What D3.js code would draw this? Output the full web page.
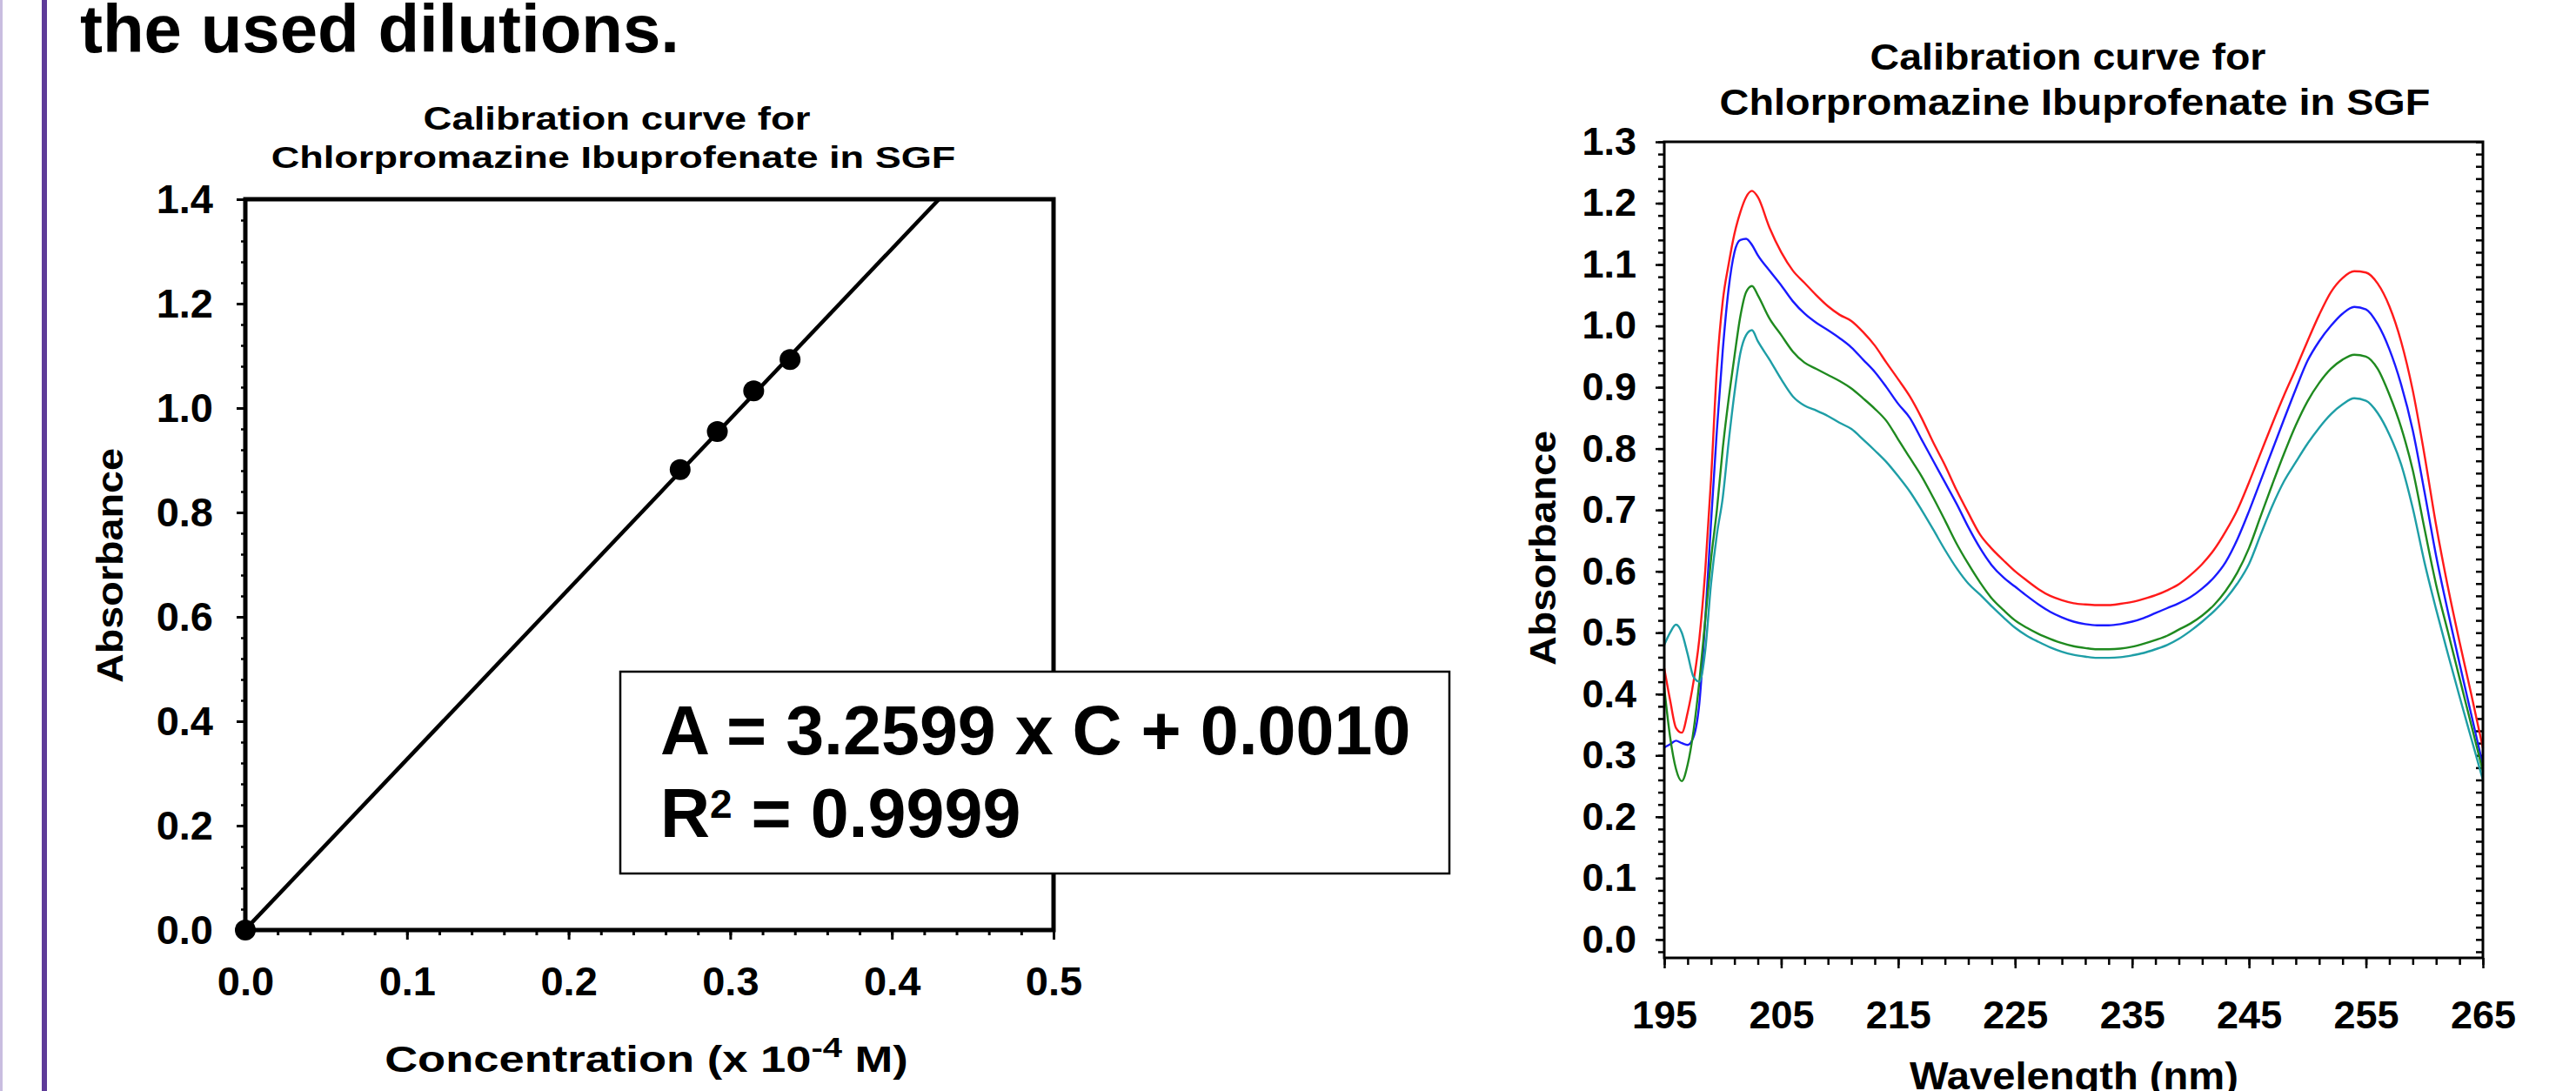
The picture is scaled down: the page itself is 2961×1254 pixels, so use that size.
<!DOCTYPE html>
<html>
<head>
<meta charset="utf-8">
<script src="https://cdn.jsdelivr.net/npm/d3@7"></script>
<style>
  html, body { margin: 0; padding: 0; background: #fff; }
  svg { display: block; font-family: "Liberation Sans", Arial, sans-serif; font-weight: bold; }
</style>
</head>
<body>
<svg id="chart" width="2961" height="1254"></svg>
<script>
// ---- calibration data (left panel)
var concentration = [0, 0.269, 0.292, 0.3145, 0.337];
var absorbance = [0, 0.882, 0.955, 1.033, 1.093];
var fitSlope = 3.2599, fitIntercept = 0.0010, fitR2 = 0.9999;
var concTicks = [0, 0.1, 0.2, 0.3, 0.4, 0.5];
var absTicks = [0, 0.2, 0.4, 0.6, 0.8, 1.0, 1.2, 1.4];

// ---- spectra (right panel)
var wavelength = [195, 195.5, 196, 196.5, 197, 197.5, 198, 198.5, 199, 199.5, 200, 200.5, 201, 201.5, 202, 202.5, 203,
  204, 205, 206, 207, 208, 209, 210, 211, 212, 213, 214, 215, 216, 217, 218, 219, 220, 221, 222, 223, 224,
  225, 226, 227, 228, 229, 230, 231, 232, 233, 234, 235, 236, 237, 238, 239, 240, 241, 242, 243, 244, 245,
  246, 247, 248, 249, 250, 251, 252, 253, 254, 255, 256, 257, 258, 259, 260, 261, 262, 263, 264, 265];
var specRed = [0.442, 0.39, 0.345, 0.337, 0.37, 0.42, 0.49, 0.60, 0.75, 0.93, 1.04, 1.10, 1.15, 1.185, 1.21, 1.22, 1.21,
  1.16, 1.12, 1.09, 1.07, 1.05, 1.032, 1.018, 1.008, 0.99, 0.968, 0.94, 0.913, 0.885, 0.85, 0.81, 0.773, 0.732, 0.695, 0.66, 0.637, 0.618,
  0.60, 0.585, 0.571, 0.56, 0.553, 0.548, 0.546, 0.545, 0.545, 0.547, 0.55, 0.555, 0.561, 0.569, 0.579, 0.594, 0.612, 0.635, 0.665, 0.70, 0.745,
  0.793, 0.841, 0.887, 0.93, 0.975, 1.018, 1.055, 1.078, 1.089, 1.087, 1.069, 1.032, 0.975, 0.895, 0.79, 0.675, 0.575, 0.485, 0.40, 0.312];
var specBlue = [0.313, 0.318, 0.324, 0.32, 0.317, 0.33, 0.385, 0.52, 0.68, 0.83, 0.96, 1.06, 1.12, 1.14, 1.142, 1.132, 1.115,
  1.09, 1.066, 1.04, 1.02, 1.005, 0.993, 0.98, 0.965, 0.945, 0.925, 0.90, 0.873, 0.85, 0.815, 0.78, 0.745, 0.71, 0.672, 0.638, 0.61, 0.59,
  0.575, 0.56, 0.546, 0.534, 0.525, 0.518, 0.514, 0.512, 0.512, 0.514, 0.518, 0.524, 0.532, 0.54, 0.548, 0.558, 0.572, 0.59, 0.615, 0.652, 0.698,
  0.748, 0.798, 0.848, 0.897, 0.943, 0.975, 1.0, 1.02, 1.031, 1.027, 1.003, 0.962, 0.905, 0.83, 0.73, 0.625, 0.535, 0.45, 0.367, 0.284];
var specGreen = [0.41, 0.33, 0.278, 0.258, 0.285, 0.34, 0.42, 0.52, 0.62, 0.70, 0.80, 0.88, 0.95, 1.015, 1.055, 1.065, 1.05,
  1.012, 0.985, 0.958, 0.94, 0.93, 0.92, 0.91, 0.898, 0.882, 0.865, 0.845, 0.815, 0.785, 0.755, 0.72, 0.683, 0.645, 0.612, 0.582, 0.556, 0.537,
  0.52, 0.508, 0.498, 0.49, 0.483, 0.478, 0.475, 0.473, 0.473, 0.474, 0.477, 0.482, 0.488, 0.495, 0.505, 0.515, 0.528, 0.545, 0.568, 0.598, 0.638,
  0.69, 0.742, 0.792, 0.838, 0.877, 0.907, 0.93, 0.945, 0.953, 0.95, 0.93, 0.888, 0.835, 0.765, 0.67, 0.578, 0.502, 0.426, 0.35, 0.274];
var specTeal = [0.48, 0.50, 0.513, 0.50, 0.465, 0.428, 0.42, 0.47, 0.58, 0.66, 0.72, 0.81, 0.89, 0.955, 0.985, 0.993, 0.975,
  0.945, 0.913, 0.885, 0.87, 0.862, 0.853, 0.842, 0.832, 0.815, 0.797, 0.778, 0.755, 0.73, 0.70, 0.668, 0.635, 0.605, 0.58, 0.562, 0.543, 0.525,
  0.508, 0.495, 0.485, 0.476, 0.469, 0.464, 0.461, 0.459, 0.459, 0.46, 0.463, 0.467, 0.473, 0.48, 0.49, 0.503, 0.518, 0.535, 0.555, 0.58, 0.612,
  0.66, 0.707, 0.747, 0.778, 0.808, 0.834, 0.856, 0.872, 0.882, 0.878, 0.858, 0.823, 0.775, 0.703, 0.615, 0.538, 0.466, 0.396, 0.328, 0.26];
var seriesColors = ["#ff1a1a", "#1a1aff", "#1f8a1f", "#1e9ea6"];
var waveTicks = [195, 205, 215, 225, 235, 245, 255, 265];
var specTicks = [0, 0.1, 0.2, 0.3, 0.4, 0.5, 0.6, 0.7, 0.8, 0.9, 1.0, 1.1, 1.2, 1.3];

var svg = d3.select("#chart");

// stretch a text so that it spans the given width
function fitText(t, x, y, width, rotate) {
  var w = t.node().getBBox().width;
  t.attr("transform", "translate(" + x + "," + y + ")" + (rotate ? " rotate(-90)" : "") +
    " scale(" + (width / w) + ",1)");
  return t;
}
function label(txt, x, y, size, width, rotate) {
  var t = svg.append("text").attr("font-size", size).attr("text-anchor", "middle").text(txt);
  return fitText(t, x, y, width, rotate);
}
function styleAxis(g, size, sw) {
  g.attr("font-family", null).attr("font-size", size);
  g.select(".domain").remove();
  g.selectAll(".tick line").attr("stroke", "#000").attr("stroke-width", sw);
  g.selectAll(".tick text").attr("fill", "#000");
}

// slide decoration
svg.append("rect").attr("x", 0).attr("y", 0).attr("width", 3).attr("height", 1254).attr("fill", "#c9bde0");
svg.append("rect").attr("x", 48).attr("y", 0).attr("width", 6).attr("height", 1254).attr("fill", "#5e3b98");
svg.append("text").attr("x", 92).attr("y", 60).attr("font-size", 78).text("the used dilutions.");

// ================= left: calibration line =================
var lx = d3.scaleLinear().domain([0, 0.5]).range([282, 1211]);
var ly = d3.scaleLinear().domain([0, 1.4]).range([1069, 229]);

label("Calibration curve for", 709, 149, 36, 445);
label("Chlorpromazine Ibuprofenate in SGF", 705, 193, 36, 787);

var gl = svg.append("g");
gl.append("g").attr("transform", "translate(0," + ly(0) + ")")
    .call(d3.axisBottom(lx).tickValues(d3.range(0, 0.5001, 0.02)).tickSize(6).tickFormat(""))
    .call(styleAxis, 47, 3);
gl.append("g").attr("transform", "translate(0," + ly(0) + ")")
    .call(d3.axisBottom(lx).tickValues(concTicks).tickSize(11).tickPadding(31).tickFormat(d3.format(".1f")))
    .call(styleAxis, 47, 3);
gl.append("g").attr("transform", "translate(" + lx(0) + ",0)")
    .call(d3.axisLeft(ly).tickValues(d3.range(0, 1.4001, 0.04)).tickSize(5).tickFormat(""))
    .call(styleAxis, 47, 2.5);
gl.append("g").attr("transform", "translate(" + lx(0) + ",0)")
    .call(d3.axisLeft(ly).tickValues(absTicks).tickSize(10).tickPadding(27).tickFormat(d3.format(".1f")))
    .call(styleAxis, 47, 3);

// fitted line, clipped at the top of the frame
var cTop = (1.4 - fitIntercept) / fitSlope;
gl.append("line")
    .attr("x1", lx(0)).attr("y1", ly(fitIntercept))
    .attr("x2", lx(cTop)).attr("y2", ly(1.4))
    .attr("stroke", "#000").attr("stroke-width", 4.5);

gl.append("rect")
    .attr("x", lx(0)).attr("y", ly(1.4))
    .attr("width", lx(0.5) - lx(0)).attr("height", ly(0) - ly(1.4))
    .attr("fill", "none").attr("stroke", "#000").attr("stroke-width", 5);

gl.selectAll("circle").data(concentration).enter().append("circle")
    .attr("cx", function(d) { return lx(d); })
    .attr("cy", function(d, i) { return ly(absorbance[i]); })
    .attr("r", 12).attr("fill", "#000");

label("Absorbance", 141, 650, 42, 270, true);
var xl = svg.append("text").attr("font-size", 42).attr("text-anchor", "middle");
xl.append("tspan").text("Concentration (x 10");
xl.append("tspan").attr("font-size", 32).attr("dy", -17).text("-4");
xl.append("tspan").attr("dy", 17).text(" M)");
fitText(xl, 743, 1232, 602);

// equation box
svg.append("rect").attr("x", 713).attr("y", 772).attr("width", 953).attr("height", 232)
    .attr("fill", "#fff").attr("stroke", "#000").attr("stroke-width", 2.5);
svg.append("text").attr("x", 759).attr("y", 867).attr("font-size", 79)
    .text("A = " + fitSlope.toFixed(4) + " x C + " + fitIntercept.toFixed(4));
var r2 = svg.append("text").attr("x", 759).attr("y", 962).attr("font-size", 79);
r2.append("tspan").text("R");
r2.append("tspan").attr("font-size", 46).attr("dy", -22).text("2");
r2.append("tspan").attr("dy", 22).text(" = " + fitR2.toFixed(4));

// ================= right: absorption spectra =================
var rx = d3.scaleLinear().domain([195, 265]).range([1913, 2854]);
var ry = d3.scaleLinear().domain([-0.03, 1.3]).range([1101, 163]);

label("Calibration curve for", 2377, 80, 42, 455);
label("Chlorpromazine Ibuprofenate in SGF", 2385, 132, 42, 817);

var gr = svg.append("g");
gr.append("g").attr("transform", "translate(0," + ry(-0.03) + ")")
    .call(d3.axisBottom(rx).tickValues(d3.range(195, 265.01, 2)).tickSize(8).tickFormat(""))
    .call(styleAxis, 45, 2.5);
gr.append("g").attr("transform", "translate(0," + ry(-0.03) + ")")
    .call(d3.axisBottom(rx).tickValues(waveTicks).tickSize(12).tickPadding(37).tickFormat(d3.format("d")))
    .call(styleAxis, 45, 2.5);
gr.append("g").attr("transform", "translate(" + rx(195) + ",0)")
    .call(d3.axisLeft(ry).tickValues(d3.range(-0.02, 1.3001, 0.02)).tickSize(7).tickFormat(""))
    .call(styleAxis, 45, 2.5);
gr.append("g").attr("transform", "translate(" + rx(195) + ",0)")
    .call(d3.axisLeft(ry).tickValues(specTicks).tickSize(10).tickPadding(22).tickFormat(d3.format(".1f")))
    .call(styleAxis, 45, 2.5);
gr.append("g").attr("transform", "translate(" + rx(265) + ",0)")
    .call(d3.axisRight(ry).tickValues(d3.range(-0.02, 1.3001, 0.02)).tickSize(-8).tickFormat(""))
    .call(styleAxis, 45, 2.5);

var spectrum = d3.line()
    .x(function(d, i) { return rx(wavelength[i]); })
    .y(function(d) { return ry(d); })
    .curve(d3.curveMonotoneX);

gr.selectAll("path.spec").data([specRed, specBlue, specGreen, specTeal]).enter().append("path")
    .attr("class", "spec")
    .attr("d", spectrum)
    .attr("fill", "none")
    .attr("stroke", function(d, i) { return seriesColors[i]; })
    .attr("stroke-width", 2.4);

gr.append("rect")
    .attr("x", rx(195)).attr("y", ry(1.3))
    .attr("width", rx(265) - rx(195)).attr("height", ry(-0.03) - ry(1.3))
    .attr("fill", "none").attr("stroke", "#000").attr("stroke-width", 3);

label("Absorbance", 1788, 630, 42, 270, true);
label("Wavelength (nm)", 2384, 1252, 44, 378);
</script>
</body>
</html>
